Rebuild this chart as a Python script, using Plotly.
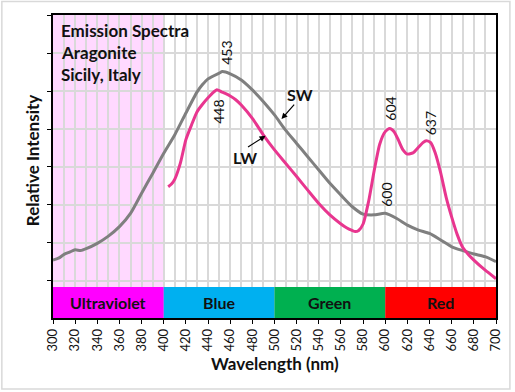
import plotly.graph_objects as go

# ---- data (relative intensity, one unit = one horizontal gridline) ----
sw_wavelength = [300, 305, 310, 315, 320, 325, 330, 340, 350, 360, 370, 380, 390, 400, 410, 420, 430, 435, 440,
                 450, 453, 460, 470, 480, 490, 500, 510, 520, 530, 540, 550, 560, 570, 580, 590, 600, 610,
                 620, 630, 640, 650, 660, 670, 680, 690, 700]
sw_intensity = [0.55, 0.60, 0.70, 0.76, 0.82, 0.80, 0.85, 0.99, 1.18, 1.43, 1.78, 2.31, 2.83, 3.36, 3.85, 4.42, 4.97, 5.17, 5.32,
                5.47, 5.51, 5.45, 5.29, 5.03, 4.72, 4.37, 3.97, 3.62, 3.27, 2.92, 2.57, 2.26, 1.96, 1.76, 1.74, 1.78, 1.65,
                1.47, 1.34, 1.25, 1.08, 0.90, 0.80, 0.71, 0.64, 0.51]

lw_wavelength = [404, 407, 410, 415, 420, 425, 430, 435, 440, 445, 448, 452, 456, 460, 465, 470, 480, 490, 500, 510,
                 520, 530, 540, 550, 560, 565, 570, 573, 576, 580, 585, 590, 595, 600, 604, 608, 612, 616, 620,
                 625, 630, 634, 637, 641, 645, 650, 655, 660, 665, 670, 675, 680, 690, 700]
lw_intensity = [2.48, 2.55, 2.68, 3.10, 3.72, 4.10, 4.45, 4.65, 4.82, 4.97, 5.03, 4.98, 4.93, 4.87, 4.77, 4.63, 4.28, 3.84, 3.45, 3.10,
                2.75, 2.39, 2.04, 1.74, 1.50, 1.40, 1.33, 1.30, 1.33, 1.50, 2.10, 2.90, 3.60, 3.93, 4.01, 3.93, 3.70, 3.45, 3.34,
                3.37, 3.52, 3.64, 3.69, 3.64, 3.38, 2.85, 2.20, 1.68, 1.22, 0.88, 0.70, 0.55, 0.29, 0.06]

band_names = ["Ultraviolet", "Blue", "Green", "Red"]
band_starts = [300, 400, 500, 600]
band_ends = [400, 500, 600, 700]
band_colors = ["#FF00FF", "#00B0F0", "#00B050", "#FF0000"]

peak_labels = ["453", "448", "604", "637", "600"]
peak_x = [456, 449.8, 605, 640.8, 600.4]
peak_y = [6.0, 4.45, 4.53, 4.16, 2.26]

x_ticks = list(range(300, 701, 20))

FONT = "Lato"
Y_MIN, Y_MAX = -0.974, 7.0
BAND_TOP = -0.158

fig = go.Figure()

fig.add_trace(go.Scatter(x=sw_wavelength, y=sw_intensity, mode="lines",
                         line=dict(color="#7F7F7F", width=3, shape="spline", smoothing=0.6),
                         hoverinfo="skip", showlegend=False))
fig.add_trace(go.Scatter(x=lw_wavelength, y=lw_intensity, mode="lines",
                         line=dict(color="#E8368F", width=3, shape="spline", smoothing=0.6),
                         hoverinfo="skip", showlegend=False))

shapes = []
# UV shading
shapes.append(dict(type="rect", xref="x", yref="y", x0=300, x1=400, y0=BAND_TOP, y1=Y_MAX,
                   fillcolor="rgba(255,0,255,0.15)", line=dict(width=0), layer="below"))
# colour bands
for s, e, c in zip(band_starts, band_ends, band_colors):
    shapes.append(dict(type="rect", xref="x", yref="y", x0=s, x1=e, y0=Y_MIN, y1=BAND_TOP,
                       fillcolor=c, line=dict(width=0), layer="above"))
# outer chart border
shapes.append(dict(type="rect", xref="paper", yref="paper", x0=(1.5 - 53) / 446, x1=(513 - 53) / 446,
                   y0=(318 - 389) / 303, y1=(318 - 1.5) / 303,
                   line=dict(color="#D9D9D9", width=1.5), fillcolor="rgba(0,0,0,0)", layer="below"))

annotations = []
for name, s, e in zip(band_names, band_starts, band_ends):
    annotations.append(dict(x=(s + e) / 2, y=(Y_MIN + BAND_TOP) / 2, xref="x", yref="y", text=f"<b>{name}</b>",
                            showarrow=False, xanchor="center", yanchor="middle",
                            font=dict(family=FONT, size=16, color="#111111")))
for t, px_, py_ in zip(peak_labels, peak_x, peak_y):
    annotations.append(dict(x=px_, y=py_, xref="x", yref="y", text=t, textangle=-90, showarrow=False,
                            xanchor="center", yanchor="middle",
                            font=dict(family=FONT, size=14, color="#111111")))
# SW / LW labels with arrows
annotations.append(dict(x=506.3, y=4.26, xref="x", yref="y", ax=14, ay=-16, text="", showarrow=True,
                        arrowhead=2, arrowsize=1, arrowwidth=1.2, arrowcolor="#000000"))
annotations.append(dict(x=523.3, y=4.92, xref="x", yref="y", text="<b>SW</b>", showarrow=False,
                        xanchor="center", yanchor="middle",
                        font=dict(family=FONT, size=16, color="#111111")))
annotations.append(dict(x=491.9, y=3.82, xref="x", yref="y", ax=-19, ay=12, text="", showarrow=True,
                        arrowhead=2, arrowsize=1, arrowwidth=1.2, arrowcolor="#000000"))
annotations.append(dict(x=473, y=3.26, xref="x", yref="y", text="<b>LW</b>", showarrow=False,
                        xanchor="center", yanchor="middle",
                        font=dict(family=FONT, size=16, color="#111111")))
# chart title lines
for i, line in enumerate(["Emission Spectra", "Aragonite", "Sicily, Italy"]):
    ypx = 30 + i * 22.5
    annotations.append(dict(x=(59 - 53) / 446, y=(318 - ypx) / 303, xref="paper", yref="paper",
                            xanchor="left", yanchor="middle", text=f"<b>{line}</b>", showarrow=False,
                            font=dict(family=FONT, size=17, color="#111111")))
# axis titles
annotations.append(dict(x=(33 - 53) / 446, y=(318 - 161) / 303, xref="paper", yref="paper",
                        xanchor="center", yanchor="middle",
                        text="<b>Relative Intensity</b>", textangle=-90, showarrow=False,
                        font=dict(family=FONT, size=17, color="#111111")))
annotations.append(dict(x=(276 - 53) / 446, y=(318 - 363) / 303, xref="paper", yref="paper",
                        xanchor="center", yanchor="middle",
                        text="<b>Wavelength (nm)</b>", showarrow=False,
                        font=dict(family=FONT, size=17, color="#111111")))

fig.update_layout(
    width=515, height=392,
    margin=dict(l=53, r=16, t=15, b=74),
    paper_bgcolor="white", plot_bgcolor="white",
    shapes=shapes, annotations=annotations,
    font=dict(family=FONT, size=12, color="#111111"),
)
fig.update_xaxes(range=[300, 700], tickmode="array", tickvals=x_ticks, ticktext=[str(v) for v in x_ticks],
                 tickangle=-90, ticks="outside", ticklen=4, tickcolor="#000000",
                 tickfont=dict(family=FONT, size=13, color="#111111"),
                 showgrid=True, gridcolor="#D9D9D9", gridwidth=1.5,
                 minor=dict(tickmode="linear", tick0=300, dtick=10, showgrid=True, gridcolor="#D9D9D9", gridwidth=1.5),
                 showline=True, linecolor="#000000", linewidth=1.5, mirror=True, zeroline=False)
fig.update_yaxes(range=[Y_MIN, Y_MAX], tickmode="linear", tick0=0, dtick=1, showticklabels=False,
                 ticks="outside", ticklen=4, tickcolor="#000000",
                 showgrid=True, gridcolor="#D9D9D9", gridwidth=1.5,
                 showline=True, linecolor="#000000", linewidth=1.5, mirror=True, zeroline=False)

fig.write_html("out.html", config={"displayModeBar": False},
               post_script="document.body.style.margin='0';document.body.style.padding='0';")
